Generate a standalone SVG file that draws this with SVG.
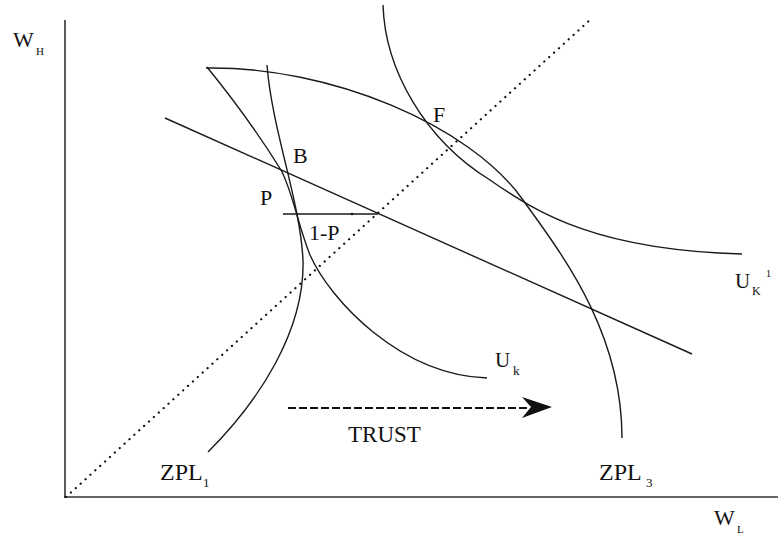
<svg xmlns="http://www.w3.org/2000/svg" width="778" height="546" viewBox="0 0 778 546">
<defs>
<style>
.ax{stroke:#333;stroke-width:1.6;fill:none}
.cv{stroke:#1a1a1a;stroke-width:1.4;fill:none}
.dot{stroke:#111;stroke-width:2.2;fill:none;stroke-linecap:round;stroke-dasharray:0.1 6.5}
.dash{stroke:#111;stroke-width:2;fill:none;stroke-dasharray:8 3}
.t{font-family:'Times New Roman','Liberation Serif',Tinos,'DejaVu Serif',serif;fill:#111}
</style>
</defs>
<g id="axes">
<line class="ax" x1="65" y1="20" x2="65" y2="498"/>
<line class="ax" x1="64" y1="497" x2="778" y2="497"/>
<text class="t" x="13" y="47" font-size="22">W</text>
<text class="t" x="36" y="55" font-size="11">H</text>
<text class="t" x="714" y="525" font-size="22">W</text>
<text class="t" x="737" y="533" font-size="11">L</text>
</g>
<g id="connectors">
<line id="diagonal" class="dot" x1="66" y1="497" x2="591" y2="19"/>
<line id="budget" class="cv" x1="165" y1="118" x2="692" y2="354"/>
<line id="prob" class="cv" x1="283" y1="214" x2="378" y2="214"/>
<circle cx="352" cy="214" r="1.3" fill="#111"/>
<path id="trust-arrow" class="dash" d="M288,408 H530"/>
<path d="M552,407 L522,397 L531,407 L522,418 Z" fill="#111"/>
</g>
<g id="ZPL3">
<path class="cv" d="M206,68 C330,66 470,125 523,200 C560,252 622,330 622,438"/>
<text class="t" x="599" y="480" font-size="24">ZPL</text>
<text class="t" x="646" y="487" font-size="13">3</text>
</g>
<g id="ZPL1">
<path class="cv" d="M267,65 C272,130 300,200 303,260 C305,330 260,400 208,452"/>
<text class="t" x="160" y="480" font-size="24">ZPL</text>
<text class="t" x="203" y="487" font-size="13">1</text>
</g>
<g id="UK1">
<path class="cv" d="M383,5 C385,70 425,140 490,180 C540,215 600,250 742,254"/>
<text class="t" x="735" y="288" font-size="21">U</text>
<text class="t" x="752" y="295" font-size="12">K</text>
<text class="t" x="766" y="277" font-size="10">1</text>
</g>
<g id="Uk">
<path class="cv" d="M207,67 Q250,120 281,170 C292,190 298,225 310,255 C330,300 400,375 487,378"/>
<text class="t" x="495" y="367" font-size="21">U</text>
<text class="t" x="513" y="375" font-size="13">k</text>
</g>
<g id="labels">
<text class="t" x="293" y="163" font-size="22">B</text>
<text class="t" x="260" y="205" font-size="22">P</text>
<text class="t" x="309" y="240" font-size="22">1-P</text>
<text class="t" x="433" y="122" font-size="22">F</text>
<text class="t" x="348" y="442" font-size="23">TRUST</text>
</g>
</svg>
